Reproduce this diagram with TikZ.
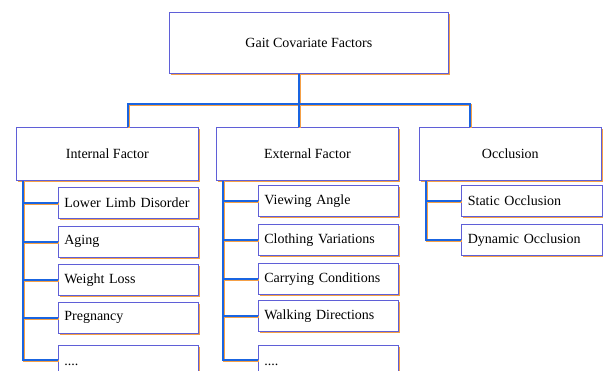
\documentclass[tikz,border=0pt]{standalone}
\usepackage{fontspec}
\setmainfont{Liberation Serif}
\usetikzlibrary{positioning,shadows}

\definecolor{boxline}{RGB}{95,95,215}
\definecolor{linkblue}{RGB}{25,100,225}
\definecolor{shade}{RGB}{245,160,70}

\begin{document}
\begin{tikzpicture}[
    x=1pt, y=-1pt,
    font=\fontsize{14}{16}\selectfont,
    box/.style={
        draw=boxline,
        line width=0.7pt,
        fill=white,
        anchor=north west,
        inner sep=0pt,
        drop shadow={shadow xshift=1.2pt, shadow yshift=-1.2pt,
                     fill=shade, opacity=1}
    },
    rootbox/.style={box, minimum width=279pt, minimum height=61pt},
    groupbox/.style={box, minimum width=182pt, minimum height=53pt},
    itembox/.style={box, minimum width=140pt, minimum height=31pt,
                    text width=128pt, align=left, inner xsep=6pt},
    link/.style={
        draw=linkblue,
        line width=1.6pt,
        preaction={draw=shade, line width=1.6pt,
                   transform canvas={shift={(1.1pt,-1.1pt)}}}
    }
]
\useasboundingbox (0,0) rectangle (603,370);
\clip (0,0) rectangle (603,370);

% root
\node[rootbox] (root) at (169,12) {Gait Covariate Factors};

% groups
\node[groupbox] (internal) at (16,127) {Internal Factor};
\node[groupbox] (external) at (216,127) {External Factor};
\node[groupbox] (occl) at (419,127) {Occlusion};

% internal items
\node[itembox] (limb) at (58,187) {Lower Limb Disorder};
\node[itembox] (aging) at (58,226) {Aging};
\node[itembox] (weight) at (58,264) {Weight Loss};
\node[itembox] (preg) at (58,302) {Pregnancy};
\node[itembox, minimum height=40pt] (imore) at (58,345) {....};

% external items
\node[itembox] (view) at (258,185) {Viewing Angle};
\node[itembox] (cloth) at (258,224) {Clothing Variations};
\node[itembox] (carry) at (258,263) {Carrying Conditions};
\node[itembox] (walk) at (258,300) {Walking Directions};
\node[itembox, minimum height=40pt] (emore) at (258,345) {....};

% occlusion items
\node[itembox, minimum width=141pt] (static) at (461,185) {Static Occlusion};
\node[itembox, minimum width=141pt] (dynamic) at (461,224) {Dynamic Occlusion};

% tree links
\coordinate (hub) at (299,104);
\draw[link] (hub |- root.south) -- (hub);
\draw[link] (internal.north -| 128,0) |- (hub) -| (occl.north -| 470,0);
\draw[link] (hub) -- (hub |- external.north);

\coordinate (itrunk) at (23,0);
\coordinate (etrunk) at (223,0);
\coordinate (otrunk) at (426,0);
\draw[link] (internal.south -| itrunk) |- (imore.west |- 0,360);
\draw[link] (external.south -| etrunk) |- (emore.west |- 0,360);
\draw[link] (occl.south -| otrunk) |- (dynamic.west);
\draw[link] (limb.west -| itrunk) -- (limb.west);
\draw[link] (aging.west -| itrunk) -- (aging.west);
\draw[link] (weight.west -| itrunk) -- (weight.west);
\draw[link] (preg.west -| itrunk) -- (preg.west);
\draw[link] (view.west -| etrunk) -- (view.west);
\draw[link] (cloth.west -| etrunk) -- (cloth.west);
\draw[link] (carry.west -| etrunk) -- (carry.west);
\draw[link] (walk.west -| etrunk) -- (walk.west);
\draw[link] (static.west -| otrunk) -- (static.west);

\end{tikzpicture}
\end{document}
